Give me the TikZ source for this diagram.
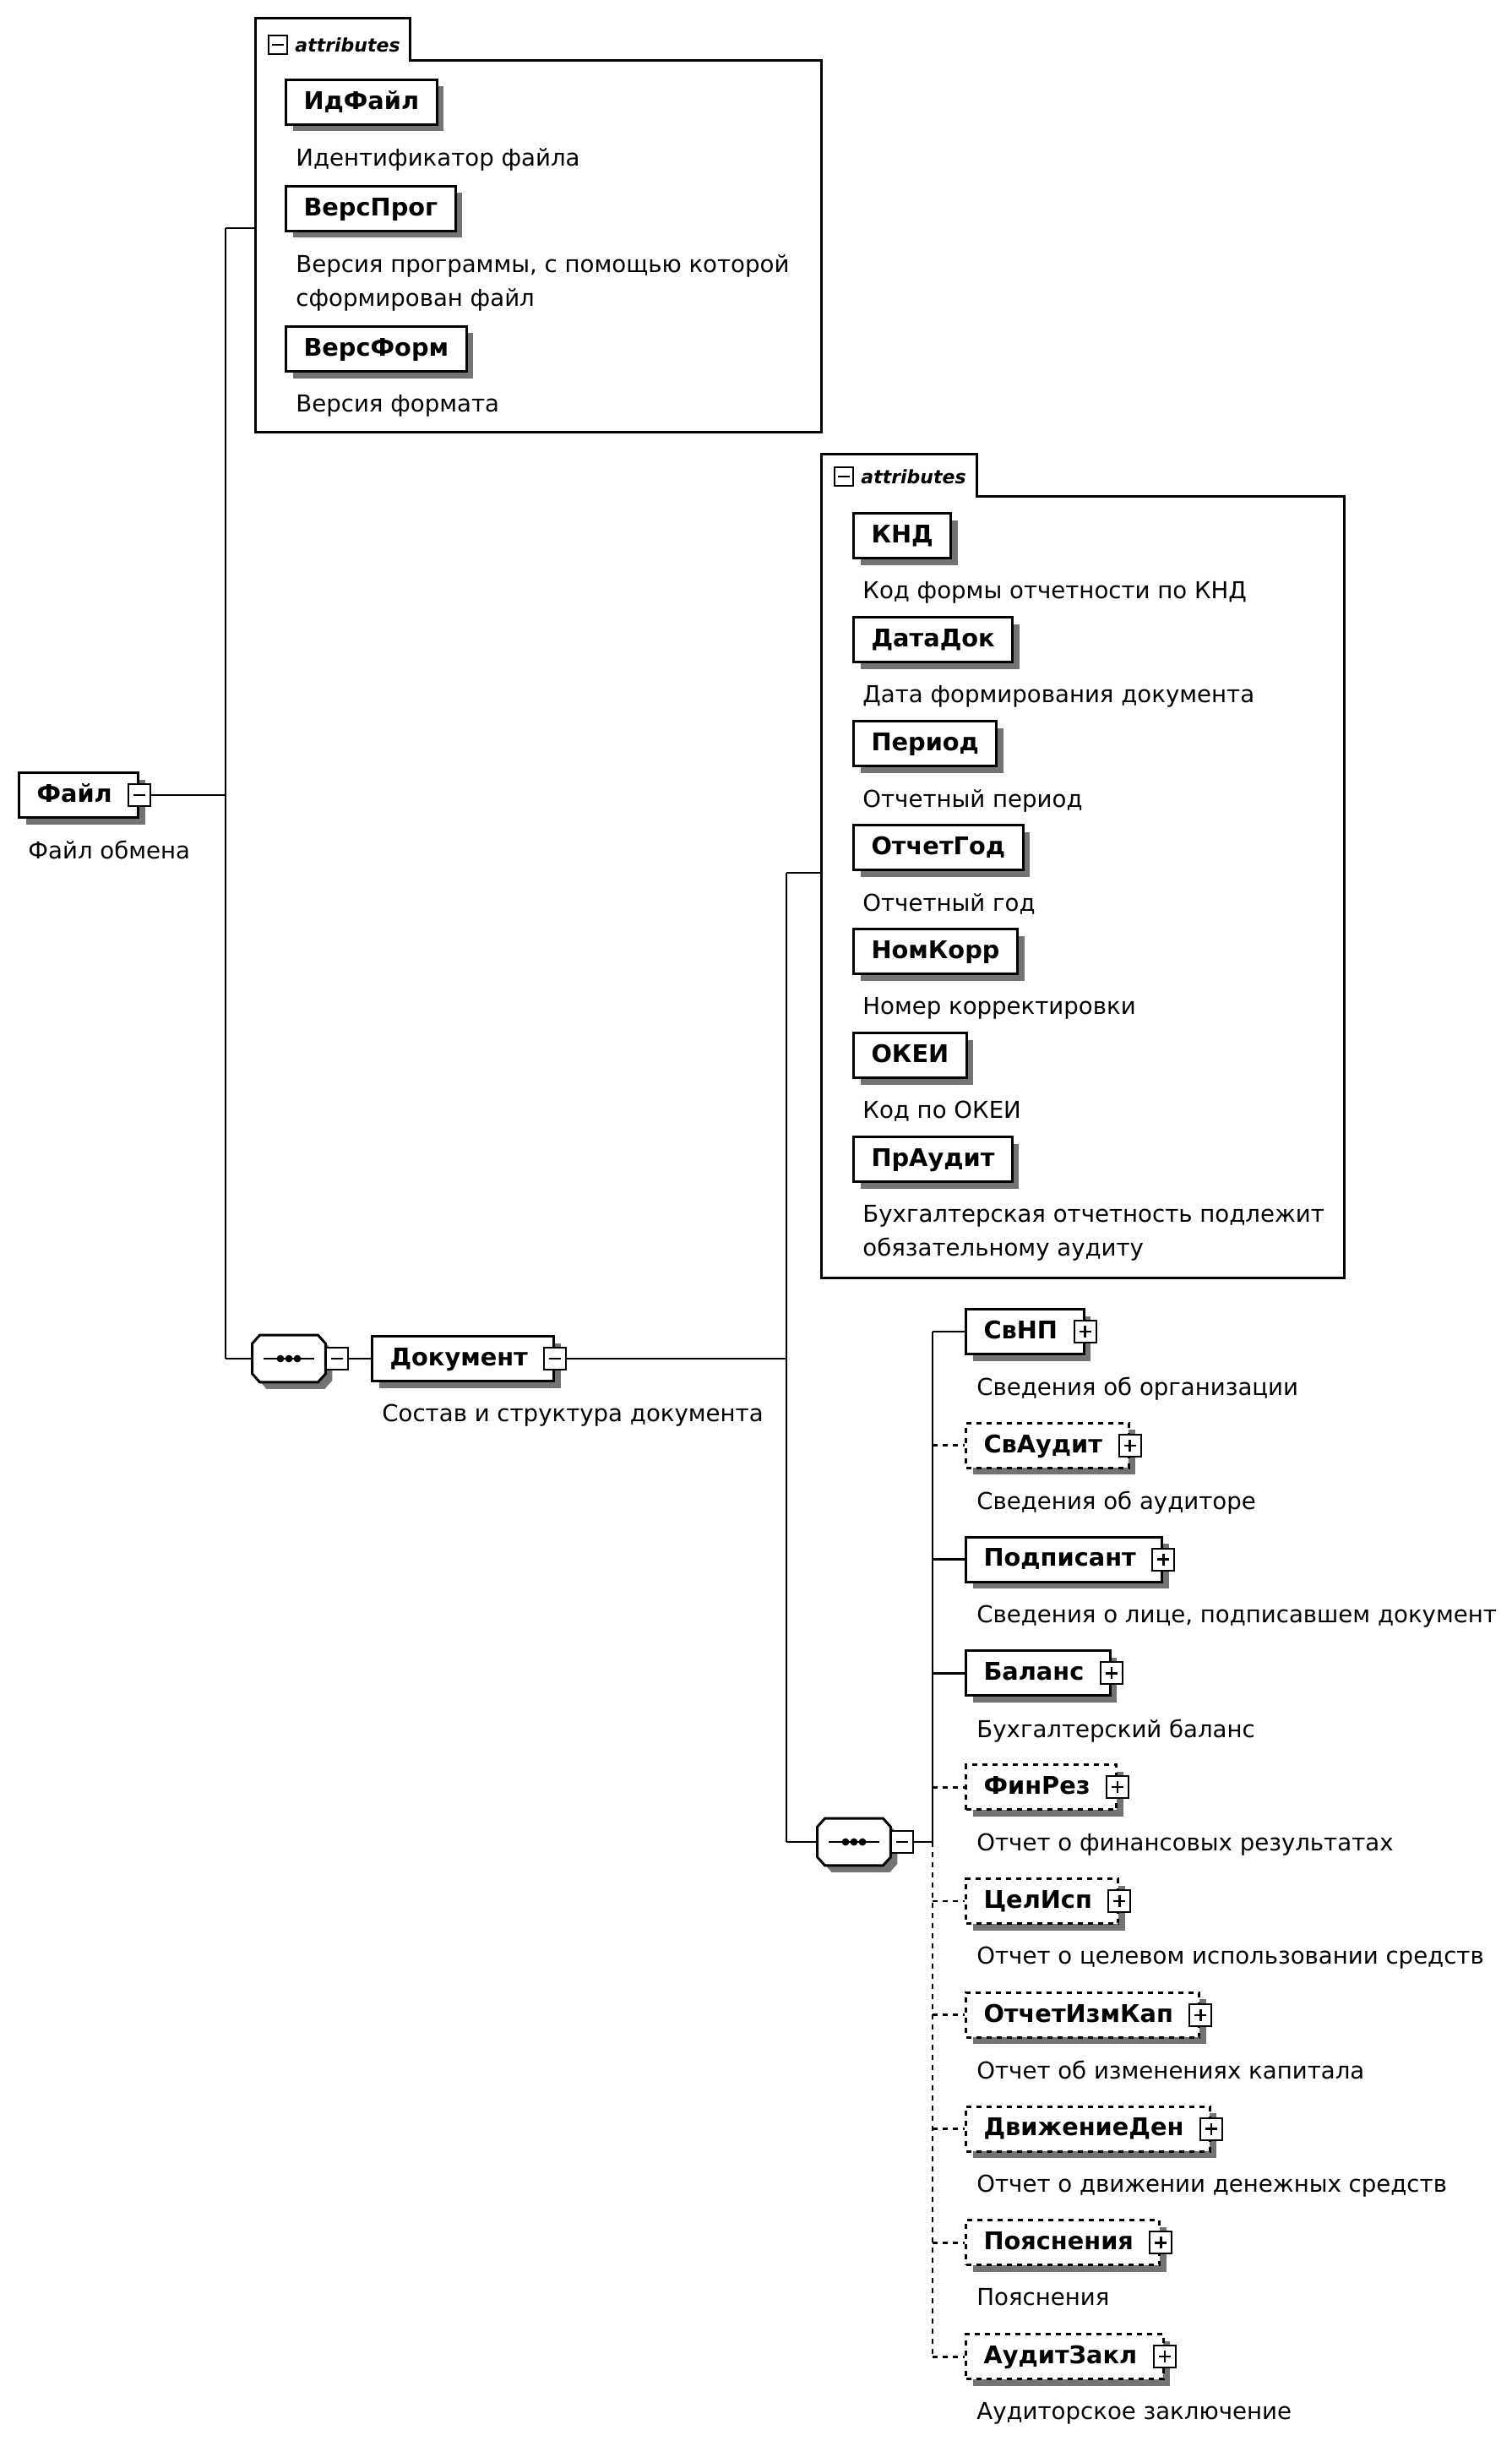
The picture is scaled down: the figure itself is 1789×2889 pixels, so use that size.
\documentclass[tikz,border=0pt]{standalone}
\usepackage{fontspec}
\setmainfont{DejaVu Sans}
\usetikzlibrary{shadows}
\tikzset{>=stealth,
  conn/.style={line width=1.4pt},
  optl/.style={dash pattern=on 3pt off 3pt},
  shade/.style={drop shadow={shadow xshift=4pt,shadow yshift=-4pt,fill=black!55,opacity=1}},
  attr/.style={draw,line width=1.5pt,fill=white,shade,anchor=west,minimum height=26.5pt,inner xsep=10.5pt,
    text height=10.8pt,text depth=2.5pt,font=\fontsize{14.4}{17}\selectfont\bfseries},
  elem/.style={attr},
  desc/.style={anchor=north west,inner sep=0pt,align=left,font=\fontsize{13.8}{20}\selectfont},
  btn/.style={draw,line width=1pt,fill=white,minimum size=13pt,inner sep=0pt},
  collapse/.style={btn,path picture={\draw[line width=1.2pt] ([xshift=-3.5pt]path picture bounding box.center) -- ([xshift=3.5pt]path picture bounding box.center);}},
  expand/.style={btn,path picture={\draw[line width=1.2pt] ([xshift=-3.5pt]path picture bounding box.center) -- ([xshift=3.5pt]path picture bounding box.center)
    ([yshift=-3.5pt]path picture bounding box.center) -- ([yshift=3.5pt]path picture bounding box.center);}},
  seqbox/.style={minimum width=43pt,minimum height=27.5pt,inner sep=0pt},
  attrframe/.style={line width=1.5pt},
  tabtext/.style={anchor=west,inner sep=0pt,font=\fontsize{11}{13}\selectfont\bfseries\itshape}
}
\newcommand{\octpath}[1]{([xshift=4.5pt]#1.north west) -- ([xshift=-4.5pt]#1.north east) -- ([yshift=-5pt]#1.north east)
  -- ([yshift=5pt]#1.south east) -- ([xshift=-4.5pt]#1.south east) -- ([xshift=4.5pt]#1.south west)
  -- ([yshift=5pt]#1.south west) -- ([yshift=-5pt]#1.north west) -- cycle}
\newcommand{\seqoct}[1]{%
  \fill[black!55,transform canvas={shift={(4pt,-4pt)}}] \octpath{#1};
  \filldraw[line width=1.5pt,fill=white] \octpath{#1};
  \draw[line width=1.2pt] ([xshift=-15pt]#1.center) -- ([xshift=15pt]#1.center);
  \foreach \dx in {-5,0,5} \fill ([xshift=\dx pt]#1.center) circle (2.2pt);}
\begin{document}
\begin{tikzpicture}[x=0.5pt,y=-0.5pt]
    \useasboundingbox[fill=white] (0,0) rectangle (1789,2889);
    \node[minimum width=91.5pt,minimum height=25pt,inner sep=0pt,anchor=south west] (tA) at (302,72) {};
    \node[minimum width=335pt,minimum height=219.5pt,inner sep=0pt,anchor=north west] (fA) at (302,72) {};
    \draw[attrframe] (tA.south west) |- (tA.north east) |- (fA.north east) |- (fA.south west) -- cycle;
    \node[collapse,minimum size=11pt] (iA) at (329,53) {};
    \node[tabtext] (lA) at (349,53) {attributes};
    \node[minimum width=92pt,minimum height=24.5pt,inner sep=0pt,anchor=south west] (tB) at (972,587) {};
    \node[minimum width=309.5pt,minimum height=462.5pt,inner sep=0pt,anchor=north west] (fB) at (972,587) {};
    \draw[attrframe] (tB.south west) |- (tB.north east) |- (fB.north east) |- (fB.south west) -- cycle;
    \node[collapse,minimum size=11pt] (iB) at (999,564) {};
    \node[tabtext] (lB) at (1019,564) {attributes};
    \node[attr] (idf) at (337,121) {ИдФайл};
    \node[desc] (idfd) at ([xshift=6.5pt,yshift=-27pt]idf.west) {Идентификатор файла};
    \node[attr] (vpr) at (337,247) {ВерсПрог};
    \node[desc] (vprd) at ([xshift=6.5pt,yshift=-27pt]vpr.west) {Версия программы, с помощью которой\\сформирован файл};
    \node[attr] (vfm) at (337,413) {ВерсФорм};
    \node[desc] (vfmd) at ([xshift=6.5pt,yshift=-27pt]vfm.west) {Версия формата};
    \foreach \i/\lbl/\dsc in {0/КНД/{Код формы отчетности по КНД}, 1/ДатаДок/{Дата формирования документа},
      2/Период/{Отчетный период}, 3/ОтчетГод/{Отчетный год}, 4/НомКорр/{Номер корректировки},
      5/ОКЕИ/{Код по ОКЕИ}, 6/ПрАудит/{Бухгалтерская отчетность подлежит\\обязательному аудиту}}
      {\node[attr] (a\i) at (1009,634+123*\i) {\lbl};
       \node[desc] (ad\i) at ([xshift=6pt,yshift=-27pt]a\i.west) {\dsc};}
    \node[elem] (f) at (21,941) {Файл\hspace*{5pt}};
    \node[collapse] (fb) at (f.east) {};
    \node[desc] (fd) at ([xshift=6pt,yshift=-27pt]f.west) {Файл обмена};
    \coordinate (ja) at (267,270);
    \coordinate (jb) at (267,1608);
    \draw[conn] (fb.east) -- (fb.east -| ja);
    \draw[conn] (ja) -- (jb);
    \draw[conn] (ja) -- (ja -| fA.west);
    \node[seqbox] (sa) at (342,1608) {};
    \seqoct{sa}
    \node[collapse,anchor=west] (sab) at (sa.east) {};
    \node[elem] (doc) at (439,1608) {Документ\hspace*{5pt}};
    \node[collapse] (docb) at (doc.east) {};
    \node[desc] (docd) at ([xshift=6.5pt,yshift=-27pt]doc.west) {Состав и структура документа};
    \draw[conn] (jb) -- (sa.west);
    \draw[conn] (sab.east) -- (doc.west);
    \coordinate (jc) at (931,1033);
    \coordinate (jd) at (931,2180);
    \draw[conn] (docb.east) -- (docb.east -| jd);
    \draw[conn] (jc) -- (jd);
    \draw[conn] (jc) -- (jc -| fB.west);
    \node[seqbox] (sb) at (1011,2180) {};
    \seqoct{sb}
    \node[collapse,anchor=west] (sbb) at (sb.east) {};
    \coordinate (tC) at (1104,2180);
    \draw[conn] (jd) -- (sb.west);
    \draw[conn] (sbb.east) -- (tC);
    \foreach \i/\lbl/\dsc/\st in {0/СвНП/{Сведения об организации}/solid, 1/СвАудит/{Сведения об аудиторе}/optl,
      2/Подписант/{Сведения о лице, подписавшем документ}/solid, 3/Баланс/{Бухгалтерский баланс}/solid,
      4/ФинРез/{Отчет о финансовых результатах}/optl, 5/ЦелИсп/{Отчет о целевом использовании средств}/optl,
      6/ОтчетИзмКап/{Отчет об изменениях капитала}/optl, 7/ДвижениеДен/{Отчет о движении денежных средств}/optl,
      8/Пояснения/{Пояснения}/optl, 9/АудитЗакл/{Аудиторское заключение}/optl}
      {\node[elem,\st] (c\i) at (1142,1576+134.8*\i) {\lbl\hspace*{5pt}};
       \node[expand] (cb\i) at (c\i.east) {};
       \node[desc] (cd\i) at ([xshift=7pt,yshift=-27pt]c\i.west) {\dsc};
       \draw[conn,\st] (tC |- c\i.west) -- (c\i.west);}
    \draw[conn] (tC |- c0.west) -- (tC);
    \draw[conn,optl] (tC) -- (tC |- c9.west);
\end{tikzpicture}
\end{document}
